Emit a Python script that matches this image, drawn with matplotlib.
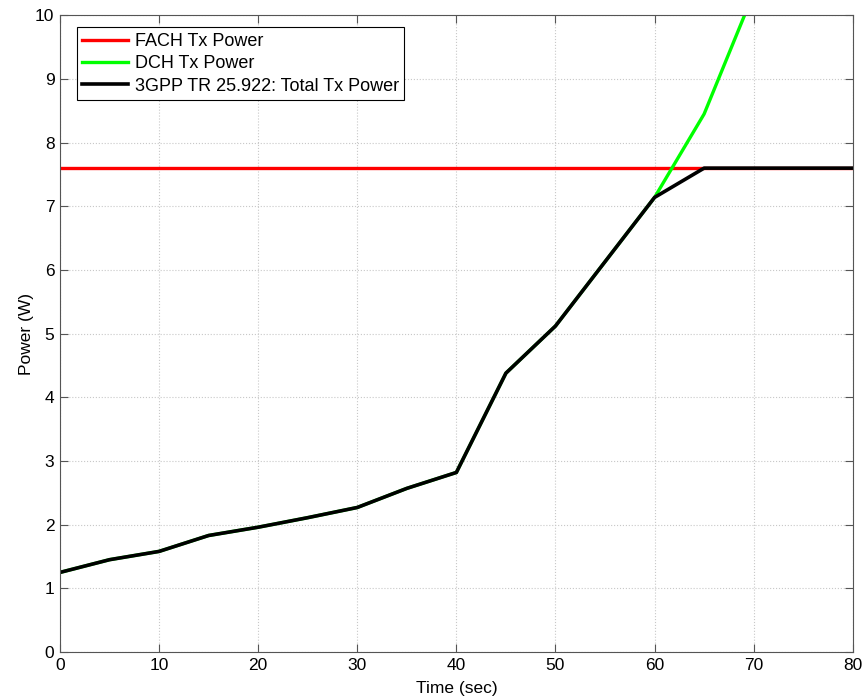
import matplotlib.pyplot as plt
import numpy as np

plt.rcParams['font.family'] = ['Liberation Sans', 'DejaVu Sans']

# Time axis (sec)
time = [0, 5, 10, 15, 20, 25, 30, 35, 40, 45, 50, 55, 60, 65, 70, 75, 80]

# DCH transmit power (W); beyond 70 s it is off the chart
dch_power = [1.25, 1.45, 1.58, 1.83, 1.96, 2.11, 2.27, 2.57, 2.82, 4.38, 5.12,
             6.13, 7.14, 8.45, 10.35, 12.4, 14.6]

# FACH transmit power (W), constant
fach_level = 7.6
fach_power = [fach_level] * len(time)

# total power = min of the two
total_power = [1.25, 1.45, 1.58, 1.83, 1.96, 2.11, 2.27, 2.57, 2.82, 4.38, 5.12,
               6.13, 7.14, 7.6, 7.6, 7.6, 7.6]

fig = plt.figure(figsize=(8.64, 6.96), dpi=100)
ax = fig.add_axes([0.0694, 0.0632, 0.9176, 0.9148])

ax.plot(time, fach_power, color='#ff0000', linewidth=2.4, label='FACH Tx Power')
ax.plot(time, dch_power, color='#00ff00', linewidth=2.4, label='DCH Tx Power')
ax.plot(time, total_power, color='black', linewidth=2.6,
        label='3GPP TR 25.922: Total Tx Power')

ax.set_xlim(0, 80)
ax.set_ylim(0, 10)
ax.set_xticks(np.arange(0, 81, 10))
ax.set_yticks(np.arange(0, 11, 1))
ax.grid(True, linestyle=':', color='#c8c8c8', linewidth=0.8)
ax.tick_params(direction='in', length=6, width=0.8, color='#555555',
               top=True, right=True, labelsize=12.5, pad=4)
for s in ax.spines.values():
    s.set_color('#555555')
    s.set_linewidth(0.8)

ax.set_xlabel('Time (sec)', fontsize=12.5, labelpad=6)
ax.set_ylabel('Power (W)', fontsize=12.5, labelpad=1)

leg = ax.legend(loc='upper left', fontsize=13, fancybox=False, framealpha=1,
                edgecolor='black', handlelength=2.5, borderpad=0.3,
                labelspacing=0.3, handletextpad=0.4, borderaxespad=0,
                bbox_to_anchor=(0.0215, 0.981))
leg.get_frame().set_linewidth(0.8)

plt.savefig('out.png', dpi=100)
